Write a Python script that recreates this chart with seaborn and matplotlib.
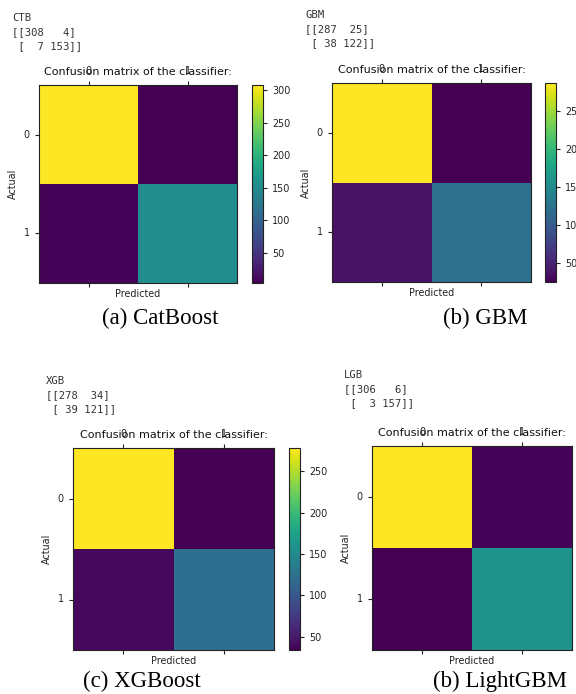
import numpy as np
import pandas as pd
import seaborn as sns
import matplotlib.pyplot as plt

# confusion matrices printed by each model
names = ['CTB', 'GBM', 'XGB', 'LGB']
ctb = [[308, 4], [7, 153]]
gbm = [[287, 25], [38, 122]]
xgb = [[278, 34], [39, 121]]
lgb = [[306, 6], [3, 157]]
matrices = [ctb, gbm, xgb, lgb]
captions = ['(a) CatBoost', '(b) GBM', '(c) XGBoost', '(b) LightGBM']
classes = [0, 1]

W, H = 576, 694
fig = plt.figure(figsize=(W / 100, H / 100), dpi=100)
fig.patch.set_facecolor('white')


def fx(x):
    return x / W


def fy(y):
    return 1 - y / H


# pixel boxes of heatmap: left, top, right, bottom ; colorbar left/right (None = off canvas)
heat_boxes = [(39, 85, 237, 283), (332, 83, 531, 282), (73, 448, 274, 650), (372, 446, 572, 650)]
cbar_boxes = [(252, 263), (545, 556), (289, 300), None]
text_pos = [(12, 18), (305, 15), (46, 381), (344, 375)]
caption_pos = [(160, 318), (485, 318), (142, 681), (500, 681)]

txt_col = '#333333'
lab = 6.9
for i, (name, mat) in enumerate(zip(names, matrices)):
    l, t, r, b = heat_boxes[i]
    ax = fig.add_axes([fx(l), fy(b), (r - l) / W, (b - t) / H])
    cax = None
    if cbar_boxes[i] is not None:
        cl, cr = cbar_boxes[i]
        cax = fig.add_axes([fx(cl), fy(b), (cr - cl) / W, (b - t) / H])
    df = pd.DataFrame(mat, index=classes, columns=classes)
    sns.heatmap(df, ax=ax, cmap='viridis', cbar=cax is not None, cbar_ax=cax,
                xticklabels=classes, yticklabels=classes)
    ax.tick_params(top=True, labeltop=True, bottom=True, labelbottom=False,
                   labelsize=lab, colors='#222222', length=3)
    plt.setp(ax.get_yticklabels(), rotation=0)
    for s in ax.spines.values():
        s.set_visible(True)
        s.set_color('#222222')
        s.set_linewidth(0.8)
    ax.set_xlabel('Predicted', fontsize=lab, color='#222222', labelpad=1)
    ax.set_ylabel('Actual', fontsize=lab, color='#222222')
    ax.text(0.5, 1 + 13 / (b - t), 'Confusion matrix of the classifier:',
            transform=ax.transAxes, ha='center', va='center', fontsize=8.0, color='#111111')
    if cax is not None:
        cax.tick_params(labelsize=lab, colors='#222222', length=3)
        cb = ax.collections[0].colorbar
        cb.outline.set_linewidth(0.8)
        cb.outline.set_edgecolor('#222222')

    # printed output above each plot
    x0, y0 = text_pos[i]
    m = np.array(mat)
    lines = [name, '[[%3d %3d]' % (m[0, 0], m[0, 1]), ' [%3d %3d]]' % (m[1, 0], m[1, 1])]
    for k, line in enumerate(lines):
        fig.text(fx(x0), fy(y0 + 14 * k), line, family='DejaVu Sans Mono', fontsize=7.6,
                 color=txt_col, ha='left', va='center')

    cx, cy = caption_pos[i]
    fig.text(fx(cx), fy(cy), captions[i], family='Liberation Serif', fontsize=16.5,
             color='black', ha='center', va='center')

fig.savefig('out.png', dpi=100, facecolor='white')
